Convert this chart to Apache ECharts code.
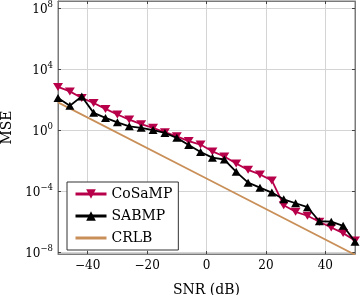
<!DOCTYPE html>
<html>
<head>
<meta charset="utf-8">
<style>
  html, body { margin: 0; padding: 0; background: #fff; }
  #chart { width: 361px; height: 295px; }
</style>
</head>
<body>
<div id="chart"></div>
<script src="https://cdn.jsdelivr.net/npm/echarts@6/dist/echarts.min.js"></script>
<script>
// SNR grid (dB)
var snr = [-50, -46, -42, -38, -34, -30, -26, -22, -18, -14, -10, -6, -2,
           2, 6, 10, 14, 18, 22, 26, 30, 34, 38, 42, 46, 50];

// log10(MSE)
var cosampLog = [2.86, 2.57, 2.14, 1.81, 1.42, 1.05, 0.72, 0.42, 0.18, -0.11, -0.38, -0.69, -0.92,
                 -1.37, -1.70, -2.16, -2.58, -2.88, -3.27, -4.90, -5.33, -5.59, -5.98, -6.36, -6.73, -7.22];
var sabmpLog  = [2.14, 1.63, 2.24, 1.16, 0.83, 0.54, 0.28, 0.18, 0.03, -0.16, -0.48, -0.95, -1.41,
                 -1.78, -1.90, -2.71, -3.42, -3.75, -4.07, -4.51, -4.77, -5.03, -5.95, -5.98, -6.25, -7.29];
// CRLB is a straight line on the log plot
var crlbSnr = [-50, 0, 50];
var crlbLog = [1.85, -3.15, -8.15];

var xTicks = [-40, -20, 0, 20, 40];
var yTicks = [-8, -4, 0, 4, 8];

function pairs(xs, ys) {
  var out = [];
  for (var i = 0; i < xs.length; i++) out.push([xs[i], ys[i]]);
  return out;
}

var serif = 'DejaVu Serif';
var frame = '#7a7a7a';

var myChart = echarts.init(document.getElementById('chart'), null, { renderer: 'canvas' });

option = {
  backgroundColor: '#fff',
  animation: false,
  grid: { left: 58, right: 6, top: 1, bottom: 41, containLabel: false, outerBoundsMode: 'none',
          show: true, borderColor: frame, borderWidth: 1 },
  legend: {
    orient: 'vertical',
    left: 67, top: 182,
    backgroundColor: '#fff',
    borderColor: '#333', borderWidth: 1,
    padding: [5, 6, 5, 7],
    itemWidth: 31, itemHeight: 12, itemGap: 8,
    lineStyle: { width: 3 },
    textStyle: { fontFamily: serif, fontSize: 14, color: '#000' },
    data: ['CoSaMP', 'SABMP', { name: 'CRLB', itemStyle: { color: 'rgba(0,0,0,0)', borderWidth: 0 } }]
  },
  xAxis: [{
    type: 'value', min: -50, max: 50,
    name: 'SNR (dB)', nameLocation: 'middle', nameGap: 29,
    nameTextStyle: { fontFamily: serif, fontSize: 14, color: '#000' },
    axisLine: { onZero: false, lineStyle: { color: frame } },
    axisTick: { inside: true, length: 3, lineStyle: { color: '#444' }, customValues: xTicks },
    axisLabel: { fontFamily: serif, fontSize: 12, color: '#000', margin: 6, customValues: xTicks,
      formatter: function (v) { return v < 0 ? '\u2212' + (-v) : String(v); } },
    splitLine: { show: true, lineStyle: { color: '#d4d4d4' } }
  }, {
    type: 'value', min: -50, max: 50, position: 'top',
    axisLine: { show: true, onZero: false, lineStyle: { color: frame } },
    axisTick: { inside: true, length: 3, lineStyle: { color: '#444' }, customValues: xTicks },
    axisLabel: { show: false }, splitLine: { show: false }
  }],
  yAxis: [{
    type: 'value', min: -8.1, max: 8.5,
    name: 'MSE', nameLocation: 'middle', nameGap: 44,
    nameTextStyle: { fontFamily: serif, fontSize: 14, color: '#000' },
    axisLine: { show: true, onZero: false, lineStyle: { color: frame } },
    axisTick: { show: true, inside: true, length: 3, lineStyle: { color: '#444' }, customValues: yTicks },
    axisLabel: {
      margin: 5, customValues: yTicks,
      formatter: function (v) { return '{b|10}{s|' + (v < 0 ? '\u2212' + (-v) : v) + '}'; },
      rich: {
        b: { fontFamily: serif, fontSize: 12, color: '#000', lineHeight: 14, verticalAlign: 'bottom' },
        s: { fontFamily: serif, fontSize: 8.5, color: '#000', lineHeight: 10, padding: [0, 0, 7, 0] }
      }
    },
    splitLine: { show: true, lineStyle: { color: '#d4d4d4' } }
  }, {
    type: 'value', min: -8.1, max: 8.5, position: 'right',
    axisLine: { show: true, onZero: false, lineStyle: { color: frame } },
    axisTick: { show: true, inside: true, length: 3, lineStyle: { color: '#444' }, customValues: yTicks },
    axisLabel: { show: false }, splitLine: { show: false }
  }],
  series: [{
    name: 'CoSaMP', type: 'line',
    data: pairs(snr, cosampLog),
    symbol: 'triangle', symbolRotate: 180, symbolSize: [10, 8],
    lineStyle: { color: '#b8004a', width: 1.8 },
    itemStyle: { color: '#b8004a' },
    z: 3
  }, {
    name: 'SABMP', type: 'line',
    data: pairs(snr, sabmpLog),
    symbol: 'triangle', symbolSize: [9, 8],
    lineStyle: { color: '#000', width: 1.8 },
    itemStyle: { color: '#000' },
    z: 4
  }, {
    name: 'CRLB', type: 'line',
    data: pairs(crlbSnr, crlbLog),
    symbol: 'none',
    lineStyle: { color: '#c98f58', width: 1.8 },
    itemStyle: { color: '#c98f58' },
    z: 2
  }]
};

myChart.setOption(option);
</script>
</body>
</html>
